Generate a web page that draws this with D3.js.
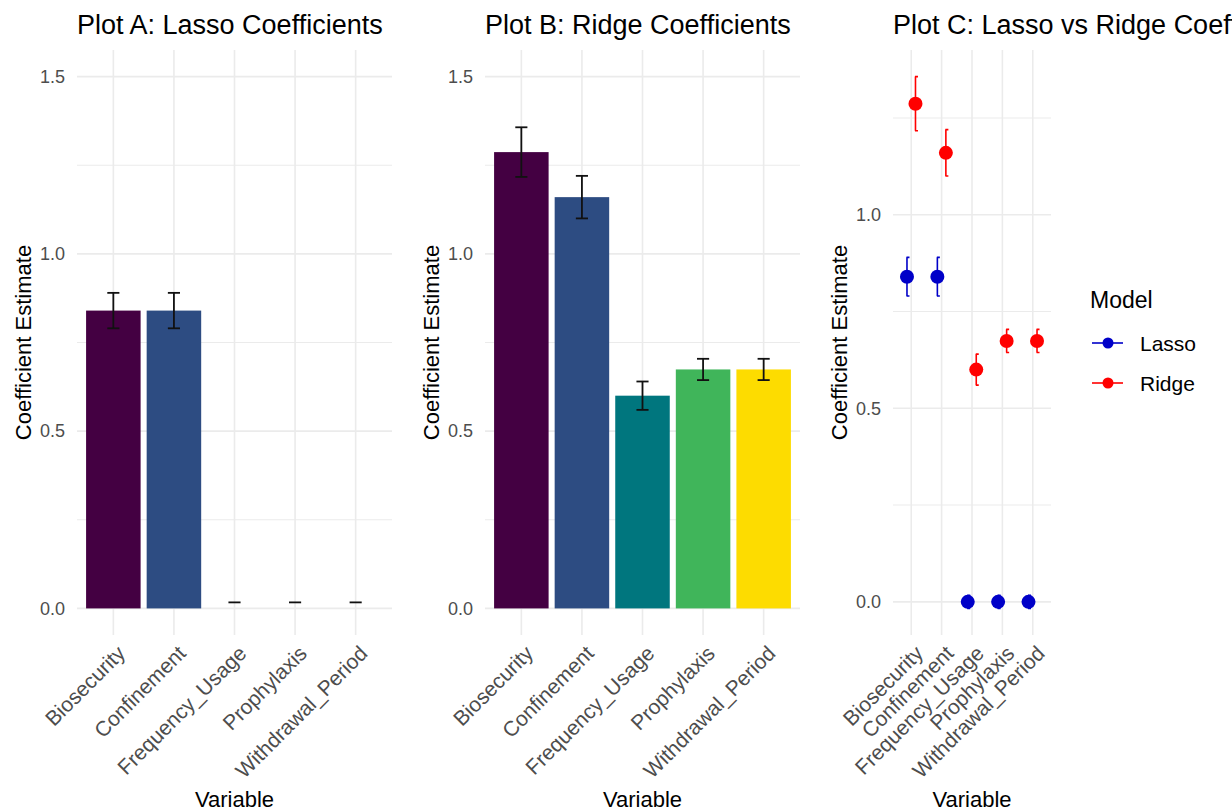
<!DOCTYPE html>
<html>
<head>
<meta charset="utf-8">
<script src="https://cdnjs.cloudflare.com/ajax/libs/d3/7.8.5/d3.min.js"></script>
<style>
  body { margin: 0; background: #fff; }
  svg { display: block; font-family: "Liberation Sans", Arial, sans-serif; }
  .grid line { stroke: #ebebeb; }
  .tick-label { fill: #4d4d4d; font-size: 18px; }
  .x-label { fill: #4d4d4d; font-size: 21px; }
</style>
</head>
<body>
<div id="chart"></div>
<script>
// data
var variables = ["Biosecurity", "Confinement", "Frequency_Usage", "Prophylaxis", "Withdrawal_Period"];
var lassoCoef = [0.84, 0.84, 0, 0, 0];
var lassoSE = [0.05, 0.05, 0.017, 0.017, 0.017];
var ridgeCoef = [1.287, 1.16, 0.60, 0.674, 0.674];
var ridgeSE = [0.07, 0.06, 0.04, 0.03, 0.03];
var models = ["Lasso", "Ridge"];
var yTicksAB = [0, 0.5, 1.0, 1.5];
var yMinorAB = [0.25, 0.75, 1.25];
var yTicksC = [0, 0.5, 1.0];
var yMinorC = [0.25, 0.75, 1.25];

(function(){
    var W = 1232, H = 812;
    var top = 50, bottom = 635;
    var barFill = ["#440042", "#2d4c82", "#00767e", "#40b55a", "#fddc00"];
    var modelColor = {Lasso: "#0000c8", Ridge: "#ff0000"};
    var fmt = d3.format(".1f");

    var svg = d3.select("#chart").append("svg")
        .attr("width", W)
        .attr("height", H);

    svg.append("rect").attr("width", W).attr("height", H).attr("fill", "#fff");

    // shared panel scaffolding: grid, axes text, titles
    function panel(left, right, yDomain, majors, minors, title) {
        var x = d3.scalePoint().domain(variables).range([left, right]).padding(0.6);
        var y = d3.scaleLinear().domain(yDomain).range([bottom, top]);
        var g = svg.append("g");

        var grid = g.append("g").attr("class", "grid");
        grid.selectAll(".minor")
            .data(minors)
            .enter().append("line")
            .attr("x1", left).attr("x2", right)
            .attr("y1", d => y(d)).attr("y2", d => y(d))
            .attr("stroke-width", 1.1);
        grid.selectAll(".major")
            .data(majors)
            .enter().append("line")
            .attr("x1", left).attr("x2", right)
            .attr("y1", d => y(d)).attr("y2", d => y(d))
            .attr("stroke-width", 1.6);
        grid.selectAll(".vx")
            .data(variables)
            .enter().append("line")
            .attr("x1", d => x(d)).attr("x2", d => x(d))
            .attr("y1", top).attr("y2", bottom)
            .attr("stroke-width", 1.6);

        var yAxis = g.append("g")
            .attr("transform", "translate(" + left + ",0)")
            .call(d3.axisLeft(y).tickValues(majors).tickSize(0).tickPadding(12).tickFormat(fmt));
        yAxis.select(".domain").remove();
        yAxis.selectAll("text")
            .attr("class", "tick-label")
            .attr("font-family", null).attr("font-size", null);

        var xAxis = g.append("g")
            .attr("transform", "translate(0," + bottom + ")")
            .call(d3.axisBottom(x).tickSize(0).tickPadding(0));
        xAxis.select(".domain").remove();
        xAxis.selectAll("text")
            .attr("class", "x-label")
            .attr("font-family", null).attr("font-size", null)
            .attr("text-anchor", "end")
            .attr("y", 0)
            .attr("dy", "0.72em")
            .attr("transform", "translate(2,9) rotate(-45)");

        g.append("text")
            .attr("x", left).attr("y", 34)
            .attr("font-size", 27)
            .attr("fill", "#000")
            .text(title);

        g.append("text")
            .attr("x", (left + right) / 2).attr("y", 807)
            .attr("text-anchor", "middle")
            .attr("font-size", 22)
            .text("Variable");

        g.append("text")
            .attr("transform", "translate(" + (left - 46) + "," + ((top + bottom) / 2) + ") rotate(-90)")
            .attr("text-anchor", "middle")
            .attr("font-size", 22)
            .text("Coefficient Estimate");

        return {x: x, y: y, g: g};
    }

    function errorBars(p, coef, se, capW, color, lo0) {
        var bw = capW;
        var eb = p.g.append("g").attr("stroke", color).attr("stroke-width", 1.8).attr("fill", "none");
        variables.forEach(function(v, i) {
            var cx = p.x(v);
            var hi = coef[i] + se[i], lo = coef[i] - se[i];
            eb.append("line")
                .attr("x1", cx - bw / 2).attr("x2", cx + bw / 2)
                .attr("y1", p.y(hi)).attr("y2", p.y(hi));
            // lower end outside the 0..1.5 limits: ggplot drops it, leaving only the top cap
            if (lo < lo0) return;
            eb.append("line")
                .attr("x1", cx).attr("x2", cx)
                .attr("y1", p.y(hi)).attr("y2", p.y(lo));
            eb.append("line")
                .attr("x1", cx - bw / 2).attr("x2", cx + bw / 2)
                .attr("y1", p.y(lo)).attr("y2", p.y(lo));
        });
    }

    function barPanel(left, right, coef, se, title) {
        var p = panel(left, right, [-0.075, 1.575], yTicksAB, yMinorAB, title);
        var step = p.x.step();
        p.g.selectAll(".bar")
            .data(variables)
            .enter().append("rect")
            .attr("x", d => p.x(d) - step * 0.45)
            .attr("width", step * 0.9)
            .attr("y", (d, i) => p.y(coef[i]))
            .attr("height", (d, i) => p.y(0) - p.y(coef[i]))
            .attr("fill", (d, i) => barFill[i]);
        errorBars(p, coef, se, step * 0.2, "#111", 0);
    }

    barPanel(77, 392, lassoCoef, lassoSE, "Plot A: Lasso Coefficients");
    barPanel(485, 800, ridgeCoef, ridgeSE, "Plot B: Ridge Coefficients");

    // Plot C: dodged points with error bars
    var lows = [], highs = [];
    variables.forEach(function(v, i) {
        lows.push(lassoCoef[i] - lassoSE[i], ridgeCoef[i] - ridgeSE[i]);
        highs.push(lassoCoef[i] + lassoSE[i], ridgeCoef[i] + ridgeSE[i]);
    });
    var mn = d3.min(lows), mx = d3.max(highs), pad = (mx - mn) * 0.05;
    var pc = panel(893, 1051, [mn - pad, mx + pad], yTicksC, yMinorC, "Plot C: Lasso vs Ridge Coefficients");
    var dodge = pc.x.step() * 0.14;

    var series = [
        {name: "Lasso", coef: lassoCoef, se: lassoSE, off: -dodge},
        {name: "Ridge", coef: ridgeCoef, se: ridgeSE, off: dodge}
    ];
    series.forEach(function(s) {
        var sg = pc.g.append("g");
        variables.forEach(function(v, i) {
            var cx = pc.x(v) + s.off;
            var hi = pc.y(s.coef[i] + s.se[i]), lo = pc.y(s.coef[i] - s.se[i]);
            sg.append("path")
                .attr("d", "M" + (cx - 0.5) + "," + hi + "H" + (cx + 2.5) + "M" + cx + "," + hi + "V" + lo + "M" + (cx - 0.5) + "," + lo + "H" + (cx + 2.5))
                .attr("stroke", modelColor[s.name])
                .attr("stroke-width", 1.6)
                .attr("fill", "none");
            sg.append("circle")
                .attr("cx", cx)
                .attr("cy", pc.y(s.coef[i]))
                .attr("r", 7)
                .attr("fill", modelColor[s.name]);
        });
    });

    // legend
    var lg = svg.append("g");
    lg.append("text")
        .attr("x", 1090).attr("y", 308)
        .attr("font-size", 23)
        .text("Model");
    var items = lg.selectAll(".item")
        .data(models)
        .enter().append("g")
        .attr("transform", (d, i) => "translate(0," + (343 + i * 40) + ")");
    items.append("line")
        .attr("x1", 1092).attr("x2", 1123)
        .attr("stroke", d => modelColor[d])
        .attr("stroke-width", 1.6);
    items.append("circle")
        .attr("cx", 1108).attr("r", 5.5)
        .attr("fill", d => modelColor[d]);
    items.append("text")
        .attr("x", 1140).attr("dy", "0.36em")
        .attr("font-size", 21)
        .text(d => d);
})();
</script>
</body>
</html>
